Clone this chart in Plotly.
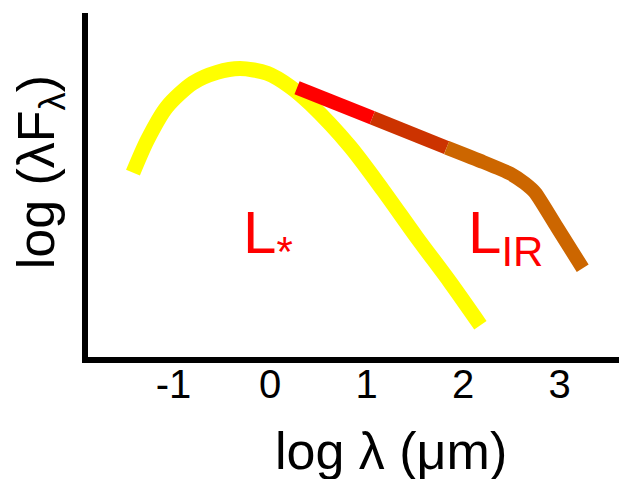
import plotly.graph_objects as go

# Stellar (L*) curve: log lambda vs log(lambda F_lambda), arbitrary units
yellow_x = [-1.42, -1.27, -1.07, -0.80, -0.55, -0.31, -0.03, 0.21, 0.42, 0.83, 1.17, 1.52, 1.87, 2.18]
yellow_y = [1.92, 2.26, 2.60, 2.85, 2.96, 3.00, 2.95, 2.81, 2.63, 2.19, 1.74, 1.25, 0.78, 0.34]

# Infrared excess (L_IR) curve
ir_x = [0.28, 1.06, 1.83, 2.21, 2.49, 2.64, 2.75, 2.97, 3.24]
ir_y = [2.80, 2.49, 2.18, 2.03, 1.91, 1.81, 1.71, 1.36, 0.93]
ir_colors = ["#FF0000", "#CC3300", "#CC6600"]
ir_breaks = [0, 1, 2, 8]

x_ticks = [-1, 0, 1, 2, 3]
x_tick_labels = ["-1", "0", "1", "2", "3"]

FONT = "Arial, Liberation Sans, sans-serif"

fig = go.Figure()
fig.add_trace(go.Scatter(
    x=yellow_x, y=yellow_y, mode="lines",
    line=dict(color="#FFFF00", width=15, shape="spline", smoothing=0.8),
    hoverinfo="skip", showlegend=False))
for i, c in enumerate(ir_colors):
    a, b = ir_breaks[i], ir_breaks[i + 1]
    fig.add_trace(go.Scatter(
        x=ir_x[a:b + 1], y=ir_y[a:b + 1], mode="lines",
        line=dict(color=c, width=14, shape="spline" if b - a > 1 else "linear", smoothing=0.5),
        hoverinfo="skip", showlegend=False))

annotations = [
    dict(text="L<sub>*</sub>", x=-0.30, y=1.25, xref="x", yref="y",
         xanchor="left", yanchor="middle", showarrow=False,
         font=dict(family=FONT, size=60, color="#FF0000")),
    dict(text="L<sub>IR</sub>", x=2.03, y=1.25, xref="x", yref="y",
         xanchor="left", yanchor="middle", showarrow=False,
         font=dict(family=FONT, size=60, color="#FF0000")),
    dict(text="log (λF<sub>λ</sub>)", x=-0.089, y=0.537, xref="paper", yref="paper",
         xanchor="center", yanchor="middle", textangle=-90, showarrow=False,
         font=dict(family=FONT, size=52, color="#000000")),
    dict(text="log λ (μm)", x=0.562, y=-0.273, xref="paper", yref="paper",
         xanchor="center", yanchor="middle", showarrow=False,
         font=dict(family=FONT, size=52, color="#000000")),
]

fig.update_layout(
    width=619, height=471, autosize=False,
    margin=dict(l=80, r=0, t=5, b=122),
    paper_bgcolor="white", plot_bgcolor="white",
    xaxis=dict(range=[-1.886, 3.699], showgrid=False, zeroline=False,
               showline=True, linewidth=6, linecolor="black",
               tickmode="array", tickvals=x_ticks, ticktext=x_tick_labels,
               ticks="", ticklabelstandoff=-13,
               tickfont=dict(family=FONT, size=40, color="black")),
    yaxis=dict(range=[0.0104, 3.575], showgrid=False, zeroline=False,
               showline=True, linewidth=6, linecolor="black",
               showticklabels=False, ticks=""),
    annotations=annotations,
    showlegend=False,
)

fig.write_html("out.html")
